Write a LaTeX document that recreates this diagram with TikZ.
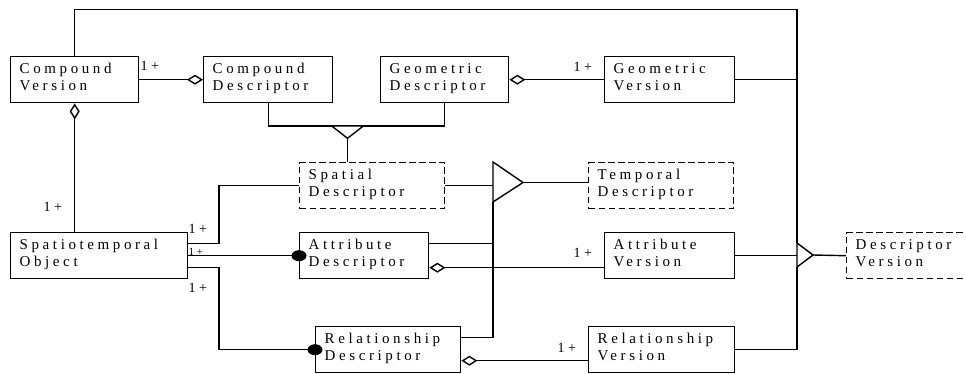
\documentclass[tikz,border=0pt]{standalone}
\usepackage{fontspec}
\setmainfont{Liberation Serif}
\newfontfamily\boxfont[LetterSpace=24]{Liberation Serif}
\usetikzlibrary{arrows.meta,calc}
\newcommand\bt[3]{\parbox[c][46pt][t]{#1pt}{\raggedright\rule{0pt}{16.5pt}#2\\#3}}
\begin{document}
\begin{tikzpicture}[x=1pt,y=-1pt, line width=1.4pt,
  box/.style={draw, rectangle, anchor=north west, inner xsep=9pt, inner ysep=0pt,
    font=\boxfont\fontsize{15pt}{17pt}\selectfont},
  dbox/.style={box, dash pattern=on 6.5pt off 3.5pt},
  mult/.style={anchor=base west, inner sep=0pt, font=\boxfont\fontsize{14pt}{16pt}\selectfont},
  smallmult/.style={anchor=base west, inner sep=0pt, font=\boxfont\fontsize{11pt}{12pt}\selectfont},
  agg/.style={{Diamond[open,length=16pt,width=10pt]}-},
  tri/.style={draw, fill=white, line join=miter},
  ]
\useasboundingbox (0,0) rectangle (966,373);
\fill[white] (0,0) rectangle (966,373);
\clip (0,0) rectangle (966,373);

% boxes
\node[box]  (cv) at (10,56)   {\bt{110}{Compound}{Version}};
\node[box]  (cd) at (203,56)  {\bt{111}{Compound}{Descriptor}};
\node[box]  (gd) at (380,56)  {\bt{110}{Geometric}{Descriptor}};
\node[box]  (gv) at (604,56)  {\bt{112}{Geometric}{Version}};
\node[dbox] (sd) at (299,162) {\bt{127}{Spatial}{Descriptor}};
\node[dbox] (td) at (588,162) {\bt{127}{Temporal}{Descriptor}};
\node[box]  (so) at (10,232)  {\bt{159}{Spatiotemporal}{Object}};
\node[box]  (ad) at (299,232) {\bt{111}{Attribute}{Descriptor}};
\node[box]  (av) at (604,232) {\bt{112}{Attribute}{Version}};
\node[dbox] (dv) at (846,232) {\bt{122}{Descriptor}{Version}};
\node[box]  (rd) at (315,326) {\bt{127}{Relationship}{Descriptor}};
\node[box]  (rv) at (588,326) {\bt{128}{Relationship}{Version}};

% helper coordinates
\coordinate (bus) at (797,9.5);
\coordinate (j1) at (219,0);
\coordinate (t1b) at (347.5,126);
\coordinate (t1a) at (347.5,138.3);
\coordinate (t2t) at (493,162);
\coordinate (t2b) at (493,202);
\coordinate (t2a) at (523,182.5);
\coordinate (t3t) at (797,243);
\coordinate (t3b) at (797,267);
\coordinate (t3a) at (813,255);

% bus line on the right
\draw (cv.north) |- (bus) -- (t3t);
\draw (rv.east) -| (t3b);
\draw (gv.east) -- (gv.east -| bus);
\draw (av.east) -- (av.east -| bus);
\draw (t3a) -- (dv.west);
\draw[tri] (t3t) -- (t3b) -- (t3a) -- cycle;

% compound / geometric generalisation
\draw (cd.south) |- (t1b) -| (gd.south);
\draw (t1a) -- (t1a |- sd.north);
\draw[tri] (331.7,126) -- (363.3,126) -- (t1a) -- cycle;

% spatial / temporal generalisation
\draw (sd.east) -- (sd.east -| t2t);
\draw ($(ad.east)+(0,-12)$) -| (t2b);
\draw ($(rd.east)+(0,-12)$) -| (t2b);
\draw (t2a) -- (t2a -| td.west);
\draw[tri] (t2t) -- (t2b) -- (t2a) -- cycle;

% aggregations
\draw[agg] (cd.west) -- (cv.east);
\draw[agg] (gd.east) -- (gv.west);
\draw[agg] (cv.south) -- (cv.south |- so.north);
\draw[agg] ($(ad.east)+(0,12)$) -- ($(av.west)+(0,12)$);
\draw[agg] ($(rd.east)+(0,11)$) -- ($(rv.west)+(0,11)$);

% spatiotemporal object links
\draw ($(so.east)+(0,-12)$) -| (sd.west -| j1) -- (sd.west);
\draw (so.east) -- (ad.west);
\draw ($(so.east)+(0,12)$) -| (rd.west -| j1) -- (rd.west);
\fill (ad.west) ellipse [x radius=7.5pt, y radius=5.5pt];
\fill (rd.west) ellipse [x radius=7.5pt, y radius=5.5pt];

% multiplicities
\node[mult] (m1) at (140,70.7) {1+};
\node[mult] (m2) at (43,211.7) {1+};
\node[mult] (m3) at (188,233) {1+};
\node[smallmult] (m4) at (188,255) {1+};
\node[mult] (m5) at (188,292) {1+};
\node[mult] (m6) at (573,71) {1+};
\node[mult] (m7) at (573,257.7) {1+};
\node[mult] (m8) at (557,352) {1+};
\end{tikzpicture}
\end{document}
